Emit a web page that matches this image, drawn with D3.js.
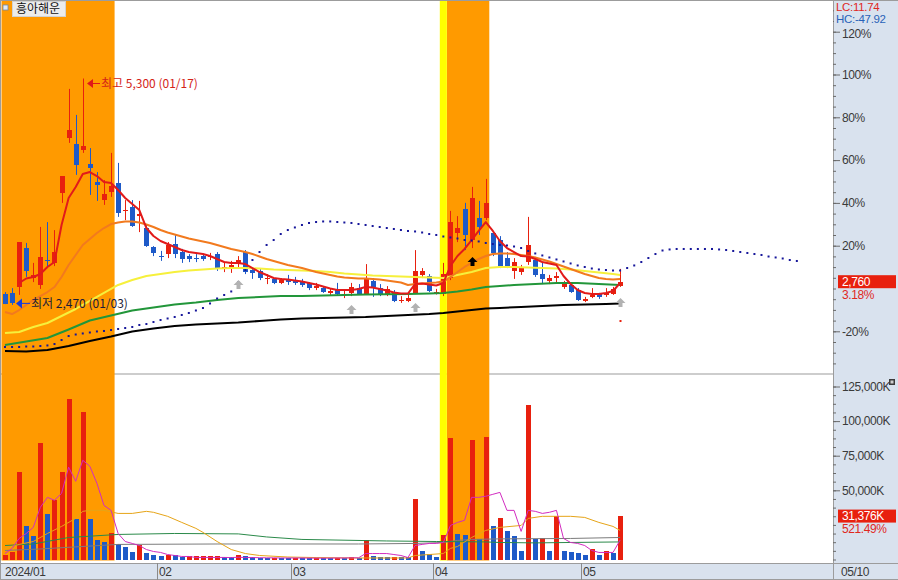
<!DOCTYPE html>
<html>
<head>
<meta charset="utf-8">
<script src="https://cdn.jsdelivr.net/npm/d3@7"></script>
<style>
html,body{margin:0;padding:0;background:#fff;overflow:hidden;}
svg{display:block;}
text{font-family:"Liberation Sans",Arial,sans-serif;}
</style>
</head>
<body>
<svg id="chart" width="898" height="580"></svg>
<script>
// ---------------- DATA ----------------
const stockName = "흥아해운";
const dates = ["01/02","01/03","01/04","01/05","01/08","01/09","01/10","01/11","01/12","01/15","01/16","01/17","01/18","01/19","01/22","01/23","01/24","01/25","01/26","01/29","01/30","01/31",
"02/01","02/02","02/05","02/06","02/07","02/08","02/13","02/14","02/15","02/16","02/19","02/20","02/21","02/22","02/23","02/26","02/27","02/28","02/29",
"03/04","03/05","03/06","03/07","03/08","03/11","03/12","03/13","03/14","03/15","03/18","03/19","03/20","03/21","03/22","03/25","03/26","03/27","03/28","03/29",
"04/01","04/02","04/03","04/04","04/05","04/08","04/09","04/11","04/12","04/15","04/16","04/17","04/18","04/19","04/22","04/23","04/24","04/25","04/26","04/29","04/30",
"05/02","05/03","05/07","05/08","05/09","05/10"];
const yearLabel = "2024";

const open = [2605,2620,2695,3180,2805,2720,3030,2995,3870,4555,
4480,4405,4230,4005,3780,3880,3995,3650,3695,3580,
3430,3195,3085,3105,3230,3130,3080,3055,3080,3070,
3105,2930,2945,2995,3130,2905,2895,2795,2795,2745,
2780,2785,2755,2745,2685,2680,2625,2655,2600,2620,
2680,2605,2770,2680,2605,2620,2525,2520,2620,2845,
2830,2625,2610,2805,3370,3670,3280,3555,3555,3370,
3280,3055,2895,2880,3005,3030,2855,2770,2805,2695,
2720,2655,2520,2570,2605,2595,2605,2705];
const high = [2630,2680,3255,3245,2995,3445,3505,3405,4080,5170,
4845,5300,4430,4130,4030,4370,4245,3780,3780,3770,
3470,3205,3145,3255,3355,3170,3105,3105,3105,3120,
3130,2995,3020,3080,3155,2930,2920,2855,2805,2805,
2845,2820,2795,2755,2745,2705,2680,2745,2655,2745,
2730,2980,2805,2730,2705,2655,2580,2595,3155,2930,
2855,2670,2995,3645,3580,3745,3945,3770,4045,3395,
3330,3130,3055,2970,3570,3070,3005,2845,2880,2770,
2755,2680,2570,2680,2620,2680,2695,2920];
const low = [2480,2470,2595,2820,2755,2670,2930,2955,3745,4495,
4095,4370,3845,3770,3720,3820,3570,3530,3445,3380,
3195,3080,3020,3055,3055,2995,3005,3005,3020,3030,
2895,2880,2870,2920,2855,2795,2780,2730,2730,2730,
2720,2720,2695,2655,2655,2620,2595,2595,2555,2580,
2595,2595,2570,2580,2580,2505,2495,2505,2605,2805,
2630,2600,2580,2780,3255,3155,3180,3345,3530,3080,
2930,2930,2795,2845,2970,2820,2730,2730,2755,2670,
2620,2520,2505,2555,2545,2570,2595,2695];
const close = [2485,2495,3255,2895,2845,3070,3020,3130,4080,4655,
4220,4455,4180,3970,3855,3955,3620,3660,3455,3605,
3205,3120,3075,3220,3105,3045,3045,3045,3045,3080,
2920,2950,2970,3030,2880,2870,2805,2805,2745,2780,
2760,2745,2720,2680,2705,2630,2645,2605,2610,2695,
2605,2795,2695,2605,2670,2525,2535,2555,2895,2895,
2650,2635,2860,3505,3430,3345,3805,3445,3745,3120,
2960,2955,3005,2930,3220,2845,2795,2805,2830,2745,
2635,2530,2545,2595,2575,2620,2675,2760];
// volume in thousands of shares (K)
const volume = [3600,5300,63300,24100,16900,84300,32600,42700,63300,116000,
29500,106700,29000,13800,13000,19300,11400,8900,5300,10600,
4600,2900,2200,3600,2900,1700,2300,2400,2500,2600,
2700,1600,1500,3000,2200,1500,1400,1100,1300,1000,
900,1000,950,900,1100,1000,900,1300,1000,1500,
1100,14300,2500,2000,1700,1900,1600,1500,44000,6500,
4100,1700,17400,87500,18600,17400,86200,15000,88200,23900,
29700,20300,16700,6500,111600,15000,15200,5800,31200,6500,
5100,5000,3600,7700,3500,5800,5048.5,31376];

// price moving-average lines
const ma5Start = 2;
const ma5 = [2744,2800,2819,2856,2944,3006,3469,3806,
3944,4106,4131,4081,4006,3994,3906,3806,3731,3656,
3431,3331,3269,3231,3194,3156,3131,3119,3106,3081,
3044,3006,2994,2994,2981,2931,2881,2844,2806,2794,
2787,2775,2762,2744,2725,2700,2675,2656,2656,2656,
2669,2694,2687,2669,2650,2625,2612,2612,2731,2737,
2725,2712,2744,2956,3081,3169,3281,3394,3506,3394,
3269,3181,3131,3081,3075,3044,3006,2987,2969,2831,
2731,2656,2619,2606,2606,2619,2644,2744];
const ma20 = [2381,2356,2406,2469,2531,2581,2631,2694,2819,2969,
3094,3219,3294,3369,3431,3481,3500,3512,3512,3500,
3475,3444,3406,3375,3350,3325,3300,3281,3262,3244,
3219,3194,3169,3150,3131,3106,3075,3044,3019,2994,
2969,2950,2931,2906,2881,2862,2844,2825,2812,2806,
2800,2800,2794,2787,2775,2762,2750,2719,2731,2737,
2744,2750,2762,2819,2881,2944,2994,3044,3081,3106,
3112,3112,3106,3094,3081,3062,3037,3012,2981,2950,
2919,2887,2856,2831,2806,2794,2787,2794];
const ma60Idx = [0,2,4,6,8,10,12,14,16,18,20,22,24,26,28,30,32,34,36,38,40,42,44,46,48,50,52,54,56,58,60,62,64,66,68,70,72,74,76,78,80,82,84,86,87];
const ma60 = [2118,2131,2194,2244,2331,2419,2519,2619,2719,2781,2831,2856,2881,2900,2912,2925,2931,2931,2925,2912,2906,2900,2894,2881,2862,2850,2837,2831,2825,2819,2812,2806,2844,2881,2931,2944,2944,2937,2931,2925,2912,2894,2875,2856,2844];
const ma120Idx = [0,3,6,9,12,15,18,21,24,27,30,33,36,39,42,45,48,51,54,57,60,62,64,66,68,70,72,75,78,81,84,87];
const ma120 = [1969,2013,2056,2163,2275,2338,2400,2438,2475,2500,2531,2556,2569,2581,2581,2588,2594,2600,2603,2606,2613,2619,2638,2663,2694,2706,2719,2731,2744,2744,2731,2719];
const ma240Idx = [0,3,6,9,12,15,18,21,24,27,30,33,36,39,42,45,48,51,54,57,60,62,64,66,68,70,73,76,79,82,85,87];
const ma240 = [1894,1887,1906,1956,2019,2075,2138,2175,2206,2225,2238,2250,2269,2288,2300,2306,2313,2319,2331,2344,2356,2369,2388,2406,2425,2431,2444,2456,2469,2475,2481,2488];
// leading dotted line (extends 25 sessions into the future)
const leadSpan = [1944,1944,1944,1950,1950,1956,1963,1981,2031,2081,
2100,2113,2125,2138,2144,2156,2169,2181,2194,2219,
2231,2256,2281,2300,2319,2344,2369,2400,2431,2488,
2550,2594,2638,2756,2906,3031,3131,3219,3281,3356,
3406,3438,3469,3494,3506,3513,3513,3506,3500,3494,
3481,3469,3456,3444,3431,3419,3406,3394,3388,3375,
3356,3344,3325,3313,3300,3281,3275,3263,3244,3231,
3219,3213,3200,3181,3144,3113,3088,3063,3038,3013,
2988,2963,2944,2925,2913,2906,2900,2900,2931,2963,
3006,3056,3106,3150,3163,3169,3169,3169,3169,3169,
3169,3163,3156,3144,3131,3119,3106,3094,3075,3063,
3050,3031,3019];

// volume moving-average lines (K)
const vma5 = [4300,8000,15200,18800,23200,37700,44900,42800,47800,66700,
56500,71700,67400,55100,39100,35500,18800,13000,11600,10100,
7200,5800,5100,3600,2900,2200,2200,1500,1500,1500,
1500,1500,1400,1600,1500,1400,1300,1200,1200,1100,
1100,1100,1100,1000,1000,1000,1000,1100,1100,1200,
1200,4300,4300,4300,4300,3600,2900,1400,10100,10900,
11600,11600,12300,24600,26800,28300,44900,44900,45700,47100,
48500,35500,35500,20300,35500,34800,33300,34100,35500,15200,
12300,11600,10100,6500,5100,5100,5100,14000];
const vma20Idx = [0,2,4,6,8,10,11,12,14,16,18,20,21,23,25,27,28,30,32,34,36,40,44,50,57,58,62,63,64,66,68,70,73,74,76,80,82,84,86,87];
const vma20 = [8000,10900,13000,18800,23900,29700,34800,35500,35500,33300,33300,34800,34100,31200,26800,22500,19600,13000,7200,4300,2900,1800,1400,1100,1100,2900,4300,8000,9400,15900,21000,23200,24600,29700,31200,31200,30400,26800,23900,21000];
const vma60Idx = [0,4,9,16,24,33,37,42,54,61,68,70,75,80,87];
const vma60 = [10100,11200,15900,18100,18800,18500,16300,14500,13400,13000,12700,12300,12000,12300,12700];
const vma120Idx = [0,5,10,16,30,50,58,62,64,66,70,80,87];
const vma120 = [6500,7600,9100,10900,11200,11200,11600,12300,13800,14500,14900,15200,15900];

// highlighted sessions
const orangeRanges = [[0,15],[63,68]];
const yellowRanges = [[62,62]];
// signal markers
const grayArrowIdx = [33,49,58,87];
const grayArrowPrice = [2781,2469,2494,2556];
const blackArrowIdx = [66];
const blackArrowPrice = [3069];
const dotIdx = [87];
const dotPrice = [2281];

// price axis % ticks and volume ticks
const pctTicks = [-20,20,40,60,80,100,120];
const volTicks = [50000,75000,100000,125000];

// ---------------- DRAW ----------------
const W = 898, H = 580;
const PL = 1.5, PR = 833, PT = 1, PB = 373.5, VT = 374.5, VB = 563;
const COL = {red:"#e8200e", blue:"#1e5ac8", orange:"#ff9a00", yellow:"#ffff00", panel:"#d9e2ee", frame:"#9c9c9c", axisText:"#3a3a3a"};
const svg = d3.select("#chart");
const n = close.length;

const x = d3.scaleLinear().domain([0, 117]).range([5, 5 + 7.07 * 117]);
const basePrice = close[n - 2];
const pct = d3.scaleLinear().domain([-20, 120]).range([331.3, 31.7]);
const toPct = p => (p / basePrice - 1) * 100;
const yP = p => pct(toPct(p));
const yV = d3.scaleLinear().domain([0, 125000]).range([559.5, 386.5]);
const cx = i => Math.round(x(i));

svg.append("rect").attr("width", W).attr("height", H).attr("fill", "#fff");

const defs = svg.append("defs");
defs.append("clipPath").attr("id","clipP").append("rect").attr("x",PL).attr("y",PT).attr("width",PR-PL).attr("height",PB-PT);
defs.append("clipPath").attr("id","clipV").append("rect").attr("x",PL).attr("y",VT).attr("width",PR-PL).attr("height",VB-VT);

// separator
svg.append("line").attr("x1",0).attr("x2",PR).attr("y1",374).attr("y2",374).attr("stroke",COL.frame).attr("stroke-width",1.2);

// highlights
const hl = svg.append("g");
orangeRanges.forEach(([a,b]) => hl.append("rect").attr("x", Math.max(PL, x(a-0.5))).attr("y", PT).attr("width", x(b+0.5)-Math.max(PL, x(a-0.5))).attr("height", VB-PT-2.5).attr("fill", COL.orange));
yellowRanges.forEach(([a,b]) => hl.append("rect").attr("x", x(a-0.5)).attr("y", PT).attr("width", x(b+0.5)-x(a-0.5)).attr("height", VB-PT-2.5).attr("fill", COL.yellow));

// ---- volume panel ----
const gV = svg.append("g").attr("clip-path","url(#clipV)");
const vLine = (idx, vals, color) => {
  const pts = idx.map((d,k)=>[d, vals[k]]);
  gV.append("path").datum(pts).attr("fill","none").attr("stroke",color).attr("stroke-width",1)
    .attr("d", d3.line().x(d=>x(d[0])).y(d=>yV(d[1])));
};
gV.selectAll("rect.vb").data(volume).join("rect")
  .attr("x",(d,i)=>cx(i)-2).attr("width",5)
  .attr("y",d=>yV(d)).attr("height",d=>yV(0)-yV(d))
  .attr("fill",(d,i)=> (i===0 || d>=volume[i-1]) ? COL.red : COL.blue)
  .attr("shape-rendering","crispEdges");
vLine(vma120Idx, vma120, "#7c7c7c");
vLine(vma60Idx, vma60, "#2b8a4a");
vLine(vma20Idx, vma20, "#e6a417");
vLine(d3.range(n), vma5, "#d22cc0");

// ---- price panel ----
const gP = svg.append("g").attr("clip-path","url(#clipP)");
const candles = gP.append("g");
d3.range(n).forEach(i => {
  const up = close[i] >= open[i];
  const c = up ? COL.red : COL.blue;
  const xc = cx(i);
  candles.append("line").attr("x1",xc+0.5).attr("x2",xc+0.5).attr("y1",yP(high[i])).attr("y2",yP(low[i])).attr("stroke",c).attr("stroke-width",1);
  const y1 = Math.min(yP(open[i]), yP(close[i])), y2 = Math.max(yP(open[i]), yP(close[i]));
  candles.append("rect").attr("x",xc-2).attr("width",5).attr("y",y1).attr("height",Math.max(1.2,y2-y1)).attr("fill",c).attr("shape-rendering","crispEdges");
});
const pLine = (idx, vals, color, w) => {
  const pts = idx.map((d,k)=>[d, vals[k]]);
  gP.append("path").datum(pts).attr("fill","none").attr("stroke",color).attr("stroke-width",w).attr("stroke-linejoin","round")
    .attr("d", d3.line().x(d=>x(d[0])).y(d=>yP(d[1])));
};
pLine(ma240Idx, ma240, "#000000", 2);
pLine(ma120Idx, ma120, "#22963a", 2);
pLine(ma60Idx, ma60, "#f6f03c", 2);
pLine(d3.range(n), ma20, "#f27a1e", 2);
pLine(d3.range(ma5Start, n), ma5, "#e21a1a", 2);

// leading dotted line
gP.selectAll("rect.ld").data(leadSpan).join("rect")
  .attr("x",(d,i)=>x(i)-1).attr("y",d=>yP(d)-1).attr("width",2).attr("height",2).attr("fill","#16169a");

// arrows
const upArrow = (xc, yt, color) => {
  gP.append("path").attr("d",`M${xc},${yt} L${xc+5},${yt+5} L${xc+2},${yt+5} L${xc+2},${yt+9} L${xc-2},${yt+9} L${xc-2},${yt+5} L${xc-5},${yt+5} Z`).attr("fill",color);
};
grayArrowIdx.forEach((i,k)=>upArrow(cx(i)+0.5, yP(grayArrowPrice[k]), "#b2b2b2"));
blackArrowIdx.forEach((i,k)=>upArrow(cx(i)+0.5, yP(blackArrowPrice[k]), "#000"));
dotIdx.forEach((i,k)=>gP.append("rect").attr("x",cx(i)-0.5).attr("y",yP(dotPrice[k])).attr("width",2).attr("height",2).attr("fill",COL.red));

// high / low annotations
const fmt = d3.format(",");
const hiIdx = d3.maxIndex(high), loIdx = d3.minIndex(low);
{
  const tx = cx(hiIdx)+4, ay = yP(high[hiIdx]) + 5;
  gP.append("path").attr("d",`M${tx},${ay} L${tx+6},${ay-4.5} L${tx+6},${ay+4.5} Z`).attr("fill","#e01818");
  gP.append("line").attr("x1",tx+6).attr("x2",tx+13).attr("y1",ay).attr("y2",ay).attr("stroke","#e01818");
  gP.append("text").attr("x",tx+14).attr("y",ay).attr("dy","0.36em").attr("font-size",12)
    .style("font-family","'Noto Sans CJK KR',sans-serif").attr("fill","#d42418")
    .text(`최고 ${fmt(high[hiIdx])} (${dates[hiIdx]})`);
}
{
  const tx = cx(loIdx)+4, ay = yP(low[loIdx]) - 1.5;
  gP.append("path").attr("d",`M${tx},${ay} L${tx+6},${ay-5} L${tx+6},${ay+5} Z`).attr("fill","#1a3cd8");
  gP.append("line").attr("x1",tx+6).attr("x2",tx+14).attr("y1",ay).attr("y2",ay).attr("stroke","#1a3cd8");
  gP.append("text").attr("x",tx+15).attr("y",ay).attr("dy","0.36em").attr("font-size",12)
    .style("font-family","'Noto Sans CJK KR',sans-serif").attr("fill","#1c1c38")
    .text(`최저 ${fmt(low[loIdx])} (${dates[loIdx]})`);
}

// ---- axis panels ----
svg.append("rect").attr("x",PR).attr("y",0).attr("width",W-PR).attr("height",H).attr("fill",COL.panel);
svg.append("rect").attr("x",0).attr("y",VB).attr("width",PR).attr("height",H-VB).attr("fill",COL.panel);

// frame lines
const fr = svg.append("g").attr("stroke",COL.frame).attr("shape-rendering","crispEdges");
fr.append("line").attr("x1",0).attr("x2",W).attr("y1",0.5).attr("y2",0.5);
fr.append("line").attr("x1",0.5).attr("x2",0.5).attr("y1",0).attr("y2",H);
fr.append("line").attr("x1",PR+0.5).attr("x2",PR+0.5).attr("y1",0).attr("y2",H);
fr.append("line").attr("x1",0).attr("x2",W).attr("y1",VB+0.5).attr("y2",VB+0.5);
fr.append("line").attr("x1",0).attr("x2",W).attr("y1",H-0.5).attr("y2",H-0.5);

// price % axis
const axP = svg.append("g").attr("transform",`translate(${PR},0)`);
axP.call(d3.axisRight(pct).tickValues(d3.range(-35,135,5)).tickSize(3).tickFormat(""));
axP.call(g=>g.select(".domain").remove());
const axP2 = svg.append("g").attr("transform",`translate(${PR},0)`);
axP2.call(d3.axisRight(pct).tickValues(pctTicks).tickSize(7).tickPadding(2).tickFormat(d=>d+"%"));
axP2.select(".domain").remove();
svg.selectAll(".tick line").attr("stroke","#6a6a6a");
axP2.selectAll("text").attr("font-size",12).attr("fill",COL.axisText).style("letter-spacing","-0.4px").style("font-family","'Liberation Sans',Arial,sans-serif");
axP2.selectAll(".tick").filter(d=>d===120).select("text").attr("dy","0.5em");

// volume axis
const axV = svg.append("g").attr("transform",`translate(${PR},0)`);
axV.call(d3.axisRight(yV).tickValues(d3.range(0,131250,6250)).tickSize(3).tickFormat(""));
axV.select(".domain").remove();
const axV2 = svg.append("g").attr("transform",`translate(${PR},0)`);
axV2.call(d3.axisRight(yV).tickValues(volTicks).tickSize(7).tickPadding(2).tickFormat(d=>fmt(d)+"K"));
axV2.select(".domain").remove();
svg.selectAll(".tick line").attr("stroke","#6a6a6a");
axV2.selectAll("text").attr("font-size",12).attr("fill",COL.axisText).style("letter-spacing","-0.4px").style("font-family","'Liberation Sans',Arial,sans-serif");

// LC / HC header (covers top of the axis)
const last = close[n-1];
svg.append("rect").attr("x",PR+1).attr("y",1).attr("width",W-PR-1).attr("height",25).attr("fill",COL.panel);
const lc = (last / low[loIdx] - 1) * 100, hc = (last / high[hiIdx] - 1) * 100;
svg.append("text").attr("x",PR+3).attr("y",10.5).attr("font-size",11.5).attr("fill","#e0281e").style("letter-spacing","-0.3px").text(`LC:${lc.toFixed(2)}`);
svg.append("text").attr("x",PR+3).attr("y",22.5).attr("font-size",11.5).attr("fill","#2a62b8").style("letter-spacing","-0.3px").text(`HC:${hc.toFixed(2)}`);

// current price label
{
  const yc = yP(last);
  svg.append("rect").attr("x",PR+5).attr("y",yc-6.5).attr("width",58).attr("height",13).attr("fill","#e8200e");
  svg.append("text").attr("x",PR+9).attr("y",yc).attr("dy","0.36em").attr("font-size",12).attr("fill","#fff").style("letter-spacing","-0.4px").text(fmt(last));
  svg.append("text").attr("x",PR+9).attr("y",yc+12.5).attr("dy","0.36em").attr("font-size",12).attr("fill","#e0281e").style("letter-spacing","-0.4px").text(toPct(last).toFixed(2)+"%");
}
// current volume label
{
  const lv = volume[n-1], pv = volume[n-2];
  const yc = yV(lv);
  svg.append("rect").attr("x",PR+5).attr("y",yc-6.5).attr("width",58).attr("height",13).attr("fill","#e8200e");
  svg.append("text").attr("x",PR+9).attr("y",yc).attr("dy","0.36em").attr("font-size",12).attr("fill","#fff").style("letter-spacing","-0.4px").text(fmt(lv)+"K");
  svg.append("text").attr("x",PR+9).attr("y",yc+12.5).attr("dy","0.36em").attr("font-size",12).attr("fill","#e0281e").style("letter-spacing","-0.4px").text(((lv/pv-1)*100).toFixed(2)+"%");
}
// small panel icon
svg.append("rect").attr("x",889).attr("y",379).attr("width",6).attr("height",6).attr("fill","#3c3c3c");
svg.append("rect").attr("x",890.5).attr("y",380.5).attr("width",3).attr("height",3).attr("fill","#cfcfcf");

// date axis
const monthStarts = d3.range(n).filter(i => i===0 || dates[i].slice(0,2) !== dates[i-1].slice(0,2));
const dAx = svg.append("g");
monthStarts.forEach((i,k) => {
  const tx = k===0 ? 3 : Math.round(x(i-0.5));
  if (k>0) dAx.append("line").attr("x1",tx+0.5).attr("x2",tx+0.5).attr("y1",VB).attr("y2",H).attr("stroke","#8a8a8a");
  dAx.append("text").attr("x",tx+2).attr("y",576).attr("font-size",12).attr("fill",COL.axisText).style("letter-spacing","-0.4px")
    .text(k===0 ? `${yearLabel}/${dates[i].slice(0,2)}` : dates[i].slice(0,2));
});
dAx.append("text").attr("x",PR+8).attr("y",576).attr("font-size",12).attr("fill",COL.axisText).style("letter-spacing","-0.4px").text(dates[n-1]);

// title box
svg.append("rect").attr("x",3).attr("y",5).attr("width",5).attr("height",5).attr("fill","#dfe9f5").attr("stroke","#7088a8").attr("stroke-width",0.8);
svg.append("rect").attr("x",12.5).attr("y",1.5).attr("width",53).attr("height",15).attr("fill","#ececec").attr("stroke","#d2d2d2");
svg.append("text").attr("x",16).attr("y",9).attr("dy","0.36em").attr("font-size",12).attr("fill","#111")
  .style("font-family","'Noto Sans CJK KR',sans-serif").text(stockName);
</script>
</body>
</html>
